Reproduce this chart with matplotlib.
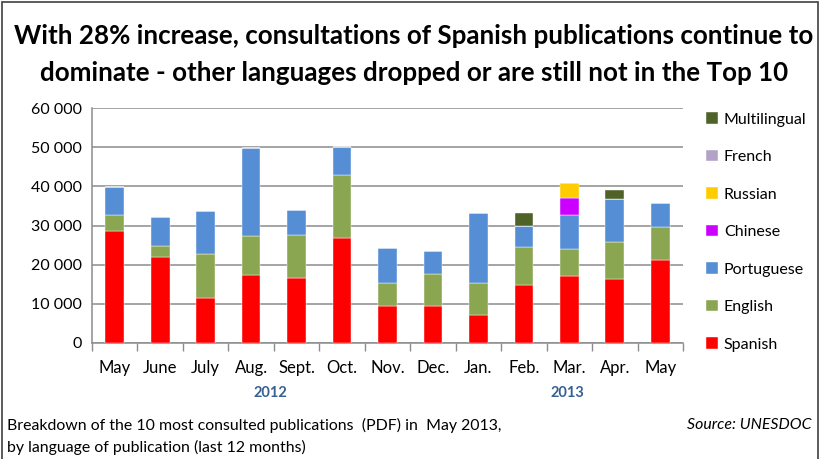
import numpy as np
import matplotlib.pyplot as plt
from matplotlib.patches import Rectangle

plt.rcParams['font.family'] = ['Lato', 'DejaVu Sans']

months = ['May', 'June', 'July', 'Aug.', 'Sept.', 'Oct.', 'Nov.', 'Dec.',
          'Jan.', 'Feb.', 'Mar.', 'Apr.', 'May']

# stacking order bottom -> top
spanish = [28700, 21900, 11500, 17400, 16600, 26800, 9400, 9400, 7100, 14800, 17100, 16300, 21100]
english = [3900, 2800, 11200, 9900, 11100, 16100, 5800, 8200, 8200, 9600, 7000, 9500, 8400]
portuguese = [7300, 7500, 10900, 22400, 6200, 7200, 9000, 6000, 17900, 5500, 8700, 10900, 6300]
chinese = [0, 0, 0, 0, 0, 0, 0, 0, 0, 0, 4300, 0, 0]
russian = [0, 0, 0, 0, 0, 0, 0, 0, 0, 0, 3700, 0, 0]
french = [0, 0, 0, 0, 0, 0, 0, 0, 0, 0, 0, 0, 0]
multilingual = [0, 0, 0, 0, 0, 0, 0, 0, 0, 3400, 0, 2400, 0]

series = [('Spanish', spanish, '#ff0000'),
          ('English', english, '#8ba650'),
          ('Portuguese', portuguese, '#558ed5'),
          ('Chinese', chinese, '#cc00ff'),
          ('Russian', russian, '#ffcc00'),
          ('French', french, '#b3a2c7'),
          ('Multilingual', multilingual, '#4f6228')]

W, H = 828, 459
fig = plt.figure(figsize=(W / 100, H / 100), dpi=100)
ax = fig.add_axes([92 / W, 1 - 343 / H, (683 - 92) / W, (343 - 108) / H])

x = np.arange(len(months))
bottom = np.zeros(len(months))
handles = []
for name, vals, col in series:
    vals = np.array(vals)
    b = ax.bar(x, vals, 0.41, bottom=bottom, color=col, label=name,
               edgecolor='white', linewidth=0.3, zorder=3)
    handles.append(b)
    bottom += vals

ax.set_xlim(-0.5, len(months) - 0.5)
ax.set_ylim(0, 60000)
ax.set_yticks(range(0, 60001, 10000))
ax.set_yticklabels(['{:,}'.format(v).replace(',', ' ') for v in range(0, 60001, 10000)], fontsize=11.5)
ax.yaxis.grid(True, color='#8c8c8c', linewidth=1.1, zorder=0)
ax.tick_params(axis='y', length=0, pad=7)

ax.set_xticks(x)
ax.set_xticklabels(months, fontsize=12)
ax.tick_params(axis='x', length=0, pad=12)
ax.set_xticks(np.arange(-0.5, len(months)), minor=True)
ax.tick_params(axis='x', which='minor', length=6, color='#8c8c8c', width=1)

for s in ['top', 'right']:
    ax.spines[s].set_visible(False)
for s in ['left', 'bottom']:
    ax.spines[s].set_color('#8c8c8c')
    ax.spines[s].set_linewidth(1.1)

fig.legend(handles[::-1], [s[0] for s in series][::-1], loc='upper left',
           bbox_to_anchor=(692 / W, 1 - 98 / H), frameon=False, fontsize=11.5,
           handlelength=0.7, handleheight=0.7, handletextpad=0.4, labelspacing=1.46)

fig.text(0.5, 1 - 36 / H, 'With 28% increase, consultations of Spanish publications continue to',
         ha='center', va='center', fontsize=18.7, fontweight='bold')
fig.text(0.5, 1 - 73 / H, 'dominate - other languages dropped or are still not in the Top 10',
         ha='center', va='center', fontsize=18.7, fontweight='bold')

fig.text(270 / W, 1 - 393 / H, '2012', ha='center', va='center', fontsize=10.5,
         fontweight='bold', color='#376092')
fig.text(567 / W, 1 - 393 / H, '2013', ha='center', va='center', fontsize=10.5,
         fontweight='bold', color='#376092')

fig.text(7 / W, 1 - 425 / H, 'Breakdown of the 10 most consulted publications  (PDF) in  May 2013,',
         ha='left', va='center', fontsize=11.4)
fig.text(7 / W, 1 - 447 / H, 'by language of publication (last 12 months)',
         ha='left', va='center', fontsize=11.4)
fig.text(812 / W, 1 - 425 / H, 'Source: UNESDOC', ha='right', va='center',
         fontsize=11.4, style='italic')

fig.patches.append(Rectangle((2 / W, -0.05), 816 / W, 1 - 2 / H + 0.05,
                             transform=fig.transFigure, fill=False,
                             edgecolor='#404040', linewidth=1.2))

fig.savefig('out.png', dpi=100)
